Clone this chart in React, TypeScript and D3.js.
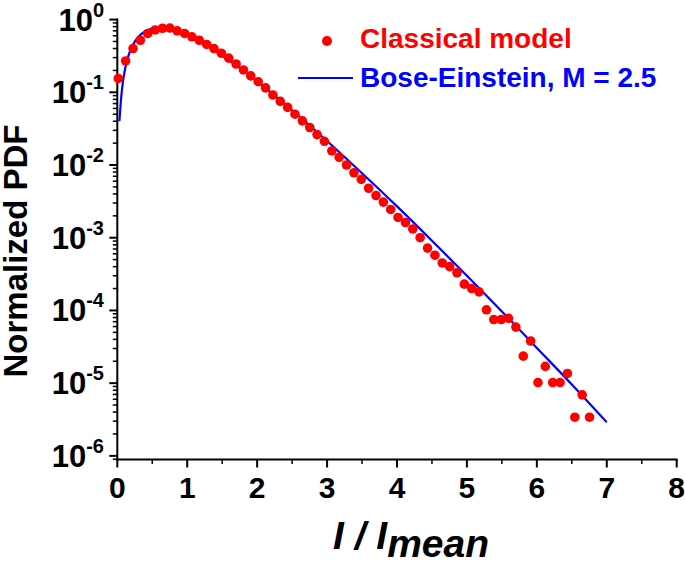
import React from "react";
import * as d3 from "d3";

// Classical model (red dots): [I/Imean, normalized PDF]
const classicalX = [
  0.014, 0.119, 0.225, 0.33, 0.435, 0.541, 0.646, 0.751, 0.856, 0.962,
  1.067, 1.172, 1.278, 1.383, 1.488, 1.594, 1.699, 1.804, 1.909, 2.015,
  2.12, 2.225, 2.331, 2.436, 2.541, 2.647, 2.752, 2.857, 2.962, 3.068,
  3.173, 3.278, 3.384, 3.489, 3.594, 3.7, 3.805, 3.91, 4.015, 4.121,
  4.226, 4.331, 4.437, 4.542, 4.647, 4.753, 4.858, 4.963, 5.068, 5.174,
  5.279, 5.384, 5.49, 5.595, 5.7, 5.806, 5.911, 6.016, 6.121, 6.227,
  6.332, 6.437, 6.543, 6.648, 6.753,
];
const classicalY = [
  0.155, 0.27, 0.4, 0.52, 0.645, 0.72, 0.76, 0.765, 0.7, 0.645,
  0.58, 0.52, 0.455, 0.4, 0.345, 0.295, 0.245, 0.203, 0.168, 0.14,
  0.115, 0.092, 0.075, 0.062, 0.05, 0.0405, 0.0328, 0.0262, 0.0212, 0.0156,
  0.01276, 0.01, 0.00783, 0.00635, 0.00479, 0.0038, 0.00309, 0.00245, 0.0019, 0.00162,
  0.00132, 0.001, 0.00072, 0.000575, 0.00045, 0.0004, 0.00033, 0.00023, 0.0002, 0.00018,
  0.000102, 0.000075, 0.000075, 0.000078, 0.000059, 0.0000235, 0.000038, 0.0000102, 0.000017, 0.0000102,
  0.0000102, 0.0000136, 0.0000034, 0.0000069, 0.0000034,
];

// Bose-Einstein, M = 2.5 (blue line)
const beX = [
  0.03, 0.04, 0.05, 0.06, 0.08, 0.1, 0.125, 0.15, 0.2, 0.25, 0.3, 0.4, 0.5, 0.6,
  0.7, 0.8, 0.9, 1.0, 1.25, 1.5, 1.75, 2, 2.5, 3, 3.5, 4, 4.5, 5, 5.5, 6, 6.5, 7,
];
const beY = [
  0.04, 0.0538, 0.0733, 0.094, 0.1377, 0.183, 0.2403, 0.297, 0.403, 0.4974, 0.577, 0.692, 0.753, 0.771,
  0.757, 0.72, 0.669, 0.61, 0.4565, 0.321, 0.2165, 0.1417, 0.0567, 0.0214, 0.0077, 0.0027, 0.00091, 0.0003,
  0.000097, 0.0000305, 0.0000096, 0.0000029,
];

const xTicks = [0, 1, 2, 3, 4, 5, 6, 7, 8];
const xMinorTicks = [0.5, 1.5, 2.5, 3.5, 4.5, 5.5, 6.5, 7.5];
const yDecades = [0, -1, -2, -3, -4, -5, -6];

const FONT = "'Liberation Sans', Arial, Helvetica, sans-serif";
const RED = "#ff0000";
const BLUE = "#0000ff";

export default function App() {
  const W = 685;
  const H = 562;
  const x = d3.scaleLinear().domain([0, 8]).range([117.3, 676.7]);
  const y = d3.scaleLog().domain([Math.pow(10, -6.05), Math.pow(10, 0.015)]).range([459.5, 18.5]);
  const axisY = 459.5;
  const axisX = 117.3;

  const yMinor: number[] = [];
  for (let d = -7; d <= 0; d++) {
    for (let m = 2; m <= 9; m++) {
      const v = m * Math.pow(10, d);
      if (v >= y.domain()[0] && v <= y.domain()[1]) yMinor.push(v);
    }
  }

  const line = d3
    .line<number>()
    .x((_, i) => x(beX[i]))
    .y((v) => y(v))
    .curve(d3.curveMonotoneX);

  return (
    <svg
      width={W}
      height={H}
      style={{ position: "absolute", left: 0, top: 0, background: "#fff" }}
      fontFamily={FONT}
    >
      {/* y axis */}
      <line x1={axisX} x2={axisX} y1={y.range()[1]} y2={axisY + 1} stroke="#000" strokeWidth={2} />
      {yDecades.map((d) => (
        <line key={"ym" + d} x1={axisX - 8} x2={axisX} y1={y(Math.pow(10, d))} y2={y(Math.pow(10, d))} stroke="#000" strokeWidth={2} />
      ))}
      {yMinor.map((v, i) => (
        <line key={"yn" + i} x1={axisX - 4.5} x2={axisX} y1={y(v)} y2={y(v)} stroke="#000" strokeWidth={1.5} />
      ))}
      {yDecades.map((d) => (
        <text key={"yl" + d} x={104} y={y(Math.pow(10, d)) + 11} textAnchor="end" fontSize={31} fontWeight="bold">
          10
          <tspan dy={-14} fontSize={20}>{d === 0 ? "0" : "-" + Math.abs(d)}</tspan>
        </text>
      ))}

      {/* x axis */}
      <line x1={axisX - 1} x2={x(8) + 1} y1={axisY} y2={axisY} stroke="#000" strokeWidth={2} />
      {xTicks.map((t) => (
        <line key={"xm" + t} x1={x(t)} x2={x(t)} y1={axisY} y2={axisY + 8} stroke="#000" strokeWidth={2} />
      ))}
      {xMinorTicks.map((t) => (
        <line key={"xn" + t} x1={x(t)} x2={x(t)} y1={axisY} y2={axisY + 4.5} stroke="#000" strokeWidth={1.5} />
      ))}
      {xTicks.map((t) => (
        <text key={"xl" + t} x={x(t)} y={498} textAnchor="middle" fontSize={30} fontWeight="bold">
          {t}
        </text>
      ))}

      {/* axis titles */}
      <text
        transform="translate(27,251) rotate(-90)"
        textAnchor="middle"
        fontSize={33}
        fontWeight="bold"
      >
        Normalized PDF
      </text>
      <text x={333} y={549} fontSize={39} fontWeight="bold" fontStyle="italic">
        I / I<tspan dy={8}>mean</tspan>
      </text>

      {/* data */}
      <path d={line(beY) || ""} fill="none" stroke={BLUE} strokeWidth={2.2} />
      {classicalY.map((v, i) => (
        <circle key={"c" + i} cx={x(classicalX[i])} cy={y(v)} r={4.8} fill={RED} />
      ))}

      {/* legend */}
      <circle cx={327} cy={41} r={5} fill={RED} />
      <text x={360} y={48} fontSize={28} fontWeight="bold" fill={RED}>
        Classical model
      </text>
      <line x1={298} x2={353} y1={78} y2={78} stroke={BLUE} strokeWidth={2.2} />
      <text x={360} y={87} fontSize={28} fontWeight="bold" fill={BLUE}>
        Bose-Einstein, M = 2.5
      </text>
    </svg>
  );
}
